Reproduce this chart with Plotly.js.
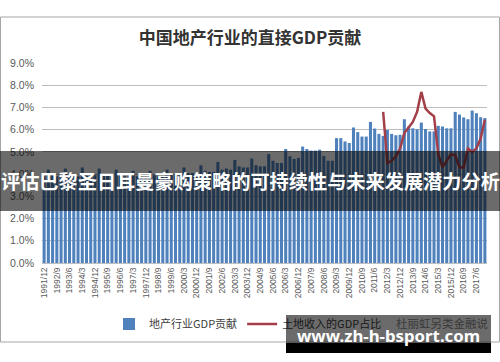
<!DOCTYPE html>
<html>
<head>
<meta charset="utf-8">
<script src="https://cdn.plot.ly/plotly-3.0.1.min.js"></script>
<style>html,body{margin:0;padding:0;background:#fff;}#chart{width:500px;height:362px;}</style>
</head>
<body>
<div id="chart"></div>
<script>
// Quarter labels
const quarters = [
  "1991/12",
  "1992/3","1992/6","1992/9","1992/12","1993/3","1993/6","1993/9","1993/12",
  "1994/3","1994/6","1994/9","1994/12","1995/3","1995/6","1995/9","1995/12",
  "1996/3","1996/6","1996/9","1996/12","1997/3","1997/6","1997/9","1997/12",
  "1998/3","1998/6","1998/9","1998/12","1999/3","1999/6","1999/9","1999/12",
  "2000/3","2000/6","2000/9","2000/12","2001/3","2001/6","2001/9","2001/12",
  "2002/3","2002/6","2002/9","2002/12","2003/3","2003/6","2003/9","2003/12",
  "2004/3","2004/6","2004/9","2004/12","2005/3","2005/6","2005/9","2005/12",
  "2006/3","2006/6","2006/9","2006/12","2007/3","2007/6","2007/9","2007/12",
  "2008/3","2008/6","2008/9","2008/12","2009/3","2009/6","2009/9","2009/12",
  "2010/3","2010/6","2010/9","2010/12","2011/3","2011/6","2011/9","2011/12",
  "2012/3","2012/6","2012/9","2012/12","2013/3","2013/6","2013/9","2013/12",
  "2014/3","2014/6","2014/9","2014/12","2015/3","2015/6","2015/9","2015/12",
  "2016/3","2016/6","2016/9","2016/12","2017/3","2017/6","2017/9","2017/12"
];

// 地产行业GDP贡献 (%)
const realEstateGdp = [
  3.9,4.2,3.95,3.9,3.85,4.25,4.0,3.95,3.9,4.3,4.05,4.0,3.95,4.25,4.0,3.95,3.9,4.2,3.95,3.9,
  3.85,4.15,3.9,3.9,3.85,4.15,3.95,3.9,3.9,4.2,4.0,3.95,3.95,4.3,4.05,4.05,4.0,
  4.4,4.15,4.1,4.1,4.55,4.2,4.25,4.2,4.64,4.35,4.3,4.3,4.7,4.4,4.35,4.35,4.9,4.6,4.5,4.5,
  5.13,4.8,4.68,4.73,5.24,5.13,5.06,5.06,5.1,4.82,4.6,4.6,
  5.62,5.62,5.47,5.4,6.1,5.89,5.69,5.69,6.35,6.05,5.81,5.72,5.99,5.81,5.75,5.77,
  6.47,6.14,6.06,6.02,6.32,6.03,5.92,5.92,6.17,6.14,6.06,6.06,6.8,6.68,6.55,6.47,
  6.86,6.74,6.56,6.52
];

// 土地收入的GDP占比 (%), from 2011/12
const landStart = "2011/12";
const landIncomeRatio = [
  6.8,4.5,4.6,4.8,5.15,5.85,6.1,6.35,6.8,7.7,6.95,6.75,6.6,4.9,4.3,4.6,4.9,4.85,4.3,4.3,
  5.15,5.0,5.15,5.6,6.45
];

const yTicks = [0,1,2,3,4,5,6,7,8,9];

const landCats = quarters.slice(quarters.indexOf(landStart), quarters.indexOf(landStart) + landIncomeRatio.length);
const tickCats = quarters.filter((q, i) => i % 3 === 0);

// pixel -> paper helpers (plot area: x 42..487, y 63..263)
const L = 42, R = 13, T = 63, B = 99, W = 500, H = 362;
const pw = W - L - R, ph = H - T - B;
const px = v => (v - L) / pw;
const py = v => (H - B - v) / ph;

const traces = [
  {
    type: 'bar', name: '地产行业GDP贡献',
    x: quarters, y: realEstateGdp,
    marker: {color: '#4f81bd'},
    hoverinfo: 'x+y'
  },
  {
    type: 'scatter', mode: 'lines', name: '土地收入的GDP占比',
    x: landCats, y: landIncomeRatio,
    line: {color: '#a23f49', width: 2.5},
    hoverinfo: 'x+y'
  }
];

const layout = {
  width: W, height: H,
  margin: {l: L, r: R, t: T, b: B},
  paper_bgcolor: '#ffffff', plot_bgcolor: '#ffffff',
  bargap: 0.28,
  showlegend: true,
  title: {
    text: '中国地产行业的直接GDP贡献',
    font: {family: 'Noto Sans CJK SC', size: 17, color: '#333333', weight: 'bold'},
    x: 0.5, xanchor: 'center', xref: 'container',
    y: 1 - 38 / H, yanchor: 'middle', yref: 'container'
  },
  xaxis: {
    type: 'category',
    tickmode: 'array', tickvals: tickCats, ticktext: tickCats,
    tickangle: -90,
    tickfont: {family: 'Liberation Sans', size: 8.5, color: '#595959'},
    ticks: '', showline: true, linecolor: '#bfbfbf', linewidth: 1,
    showgrid: false, automargin: false
  },
  yaxis: {
    range: [0, 9], tickmode: 'array', tickvals: yTicks,
    ticktext: yTicks.map(v => v.toFixed(1) + '%'),
    tickfont: {family: 'Liberation Sans', size: 10.5, color: '#595959'},
    ticks: '', ticklabelstandoff: 7,
    showgrid: true, gridcolor: '#bdbdbd', gridwidth: 1,
    zeroline: false, showline: false, automargin: false
  },
  legend: {
    orientation: 'h', x: px(248), xanchor: 'center', y: py(324), yanchor: 'middle',
    font: {family: 'Noto Sans CJK SC', size: 11, color: '#404040'},
    bgcolor: 'rgba(0,0,0,0)'
  },
  shapes: [
    {type: 'rect', xref: 'paper', yref: 'paper', layer: 'below',
     x0: px(0.5), x1: px(499.5), y0: py(17), y1: py(342),
     line: {color: '#a6a6a6', width: 1}, fillcolor: 'rgba(0,0,0,0)'},
    {type: 'rect', xref: 'paper', yref: 'paper', layer: 'above',
     x0: px(0), x1: px(500), y0: py(151), y1: py(211),
     line: {width: 0}, fillcolor: 'rgba(0,0,0,0.58)'},
    {type: 'rect', xref: 'paper', yref: 'paper', layer: 'above',
     x0: px(286), x1: px(491), y0: py(343), y1: py(353),
     line: {width: 0}, fillcolor: '#000000'}
  ],
  annotations: [
    {text: '评估巴黎圣日耳曼豪购策略的可持续性与未来发展潜力分析',
     xref: 'paper', yref: 'paper', x: px(250), y: py(181), xanchor: 'center', yanchor: 'middle',
     showarrow: false,
     font: {family: 'Noto Sans CJK SC', size: 19.2, color: '#ffffff', weight: 'bold'}},
    {text: '杜丽虹另类金融说',
     xref: 'paper', yref: 'paper', x: px(394), y: py(323), xanchor: 'left', yanchor: 'middle',
     showarrow: false,
     font: {family: 'Noto Sans CJK SC', size: 11.5, color: '#8a8a8a'}},
    {text: ' ', xref: 'paper', yref: 'paper', x: px(286), y: py(315), xanchor: 'left', yanchor: 'top',
     showarrow: false, width: 205, height: 28, borderpad: 0, borderwidth: 0,
     bgcolor: 'rgba(0,0,0,0.58)', font: {size: 10}},
    {text: 'www.zh-h-bsport.com',
     xref: 'paper', yref: 'paper', x: px(388), y: py(335), xanchor: 'center', yanchor: 'middle',
     showarrow: false,
     font: {family: 'Noto Sans', size: 16.8, color: '#ffffff', weight: 'bold'}}
  ]
};

Plotly.newPlot('chart', traces, layout, {displayModeBar: false, staticPlot: true});
</script>
</body>
</html>
